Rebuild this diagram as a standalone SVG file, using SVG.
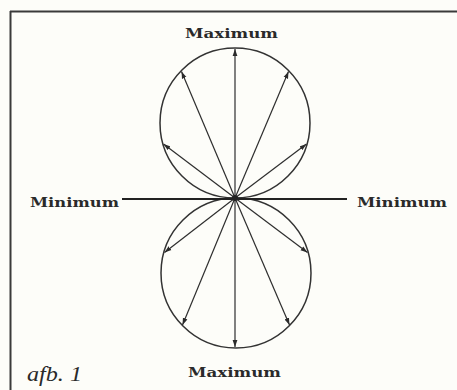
<svg xmlns="http://www.w3.org/2000/svg" width="457" height="390" viewBox="0 0 457 390">
<style>
.lbl{font-family:"DejaVu Serif","Liberation Serif",serif;font-weight:bold;font-size:13px;fill:#2a2a2a}
.ray{stroke:#2e2e2e;stroke-width:1.2;fill:none;marker-end:url(#ah)}
.lobe{stroke:#333;stroke-width:1.5;fill:none}
</style>
<defs>
<marker id="ah" markerUnits="userSpaceOnUse" markerWidth="8" markerHeight="6" refX="7" refY="3" orient="auto">
<path d="M0,0.6 L7,3 L0,5.4 Z" fill="#2a2a2a"/>
</marker>
</defs>
<rect width="457" height="390" fill="#fdfdf9"/>
<g id="frame" stroke="#3a3a3a" stroke-width="2">
<line x1="10" y1="11.5" x2="457" y2="11.5"/>
<line x1="10.5" y1="11" x2="10.5" y2="390"/>
</g>
<g id="upper-lobe"><circle class="lobe" cx="235" cy="123" r="75"/></g>
<g id="lower-lobe"><circle class="lobe" cx="236" cy="273" r="75"/></g>
<g id="connectors">
<line x1="122" y1="199" x2="347" y2="199" stroke="#222" stroke-width="2"/>
<line class="ray" x1="235" y1="198" x2="235" y2="49"/>
<line class="ray" x1="235" y1="198" x2="288.5" y2="71.5"/>
<line class="ray" x1="235" y1="198" x2="181.5" y2="71.5"/>
<line class="ray" x1="235" y1="198" x2="306.5" y2="144"/>
<line class="ray" x1="235" y1="198" x2="163.5" y2="144"/>
<line class="ray" x1="235" y1="198" x2="235" y2="347"/>
<line class="ray" x1="235" y1="198" x2="289.5" y2="325"/>
<line class="ray" x1="235" y1="198" x2="182.5" y2="325"/>
<line class="ray" x1="235" y1="198" x2="307.5" y2="252.5"/>
<line class="ray" x1="235" y1="198" x2="164.5" y2="252.5"/>
<circle cx="235" cy="198" r="3" fill="#222"/>
</g>
<g id="labels">
<text class="lbl" x="185" y="38" textLength="93" lengthAdjust="spacingAndGlyphs">Maximum</text>
<text class="lbl" x="188" y="377" textLength="93" lengthAdjust="spacingAndGlyphs">Maximum</text>
<text class="lbl" x="30" y="207" textLength="89" lengthAdjust="spacingAndGlyphs">Minimum</text>
<text class="lbl" x="357" y="207" textLength="90" lengthAdjust="spacingAndGlyphs">Minimum</text>
<text x="27" y="381" font-family="Liberation Serif,serif" font-style="italic" font-size="20" fill="#2a2a2a" textLength="55" lengthAdjust="spacingAndGlyphs">afb. 1</text>
</g>
</svg>
